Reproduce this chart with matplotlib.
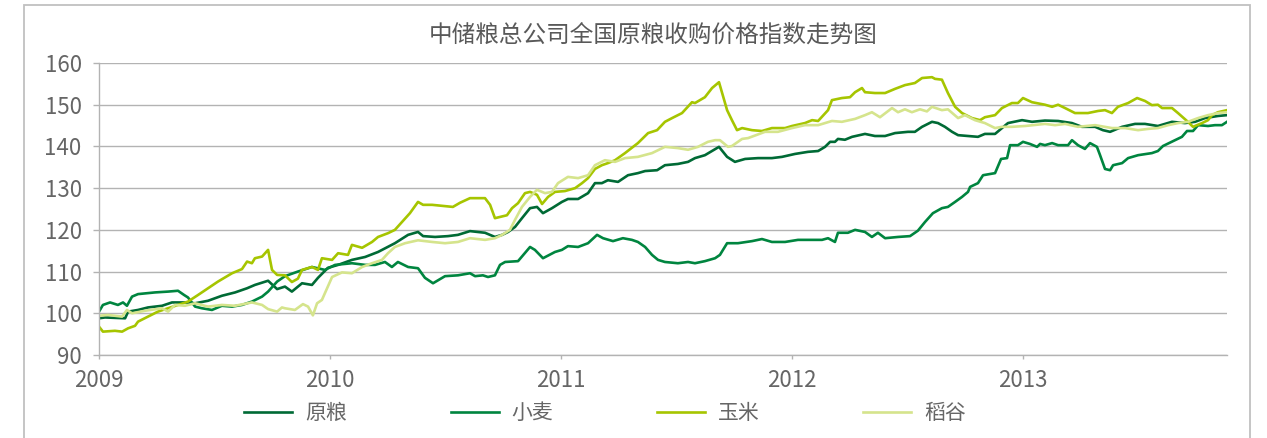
import matplotlib
matplotlib.use('Agg')
import matplotlib.pyplot as plt
from matplotlib.patches import Rectangle

plt.rcParams['font.family'] = ['Noto Sans CJK SC', 'DejaVu Sans']

# x values: years since 2009-01-01
base_year = 2009

yuanliang_t = [0.000, 0.026, 0.113, 0.126, 0.169, 0.212, 0.273, 0.316, 0.372, 0.416,
               0.472, 0.532, 0.589, 0.641, 0.675, 0.732, 0.771, 0.805, 0.835, 0.879,
               0.922, 0.948, 0.991, 1.035, 1.095, 1.152, 1.208, 1.281, 1.338, 1.381,
               1.403, 1.455, 1.511, 1.554, 1.606, 1.671, 1.714, 1.745, 1.771, 1.801,
               1.831, 1.866, 1.896, 1.922, 1.961, 2.004, 2.030, 2.074, 2.117, 2.147,
               2.177, 2.203, 2.247, 2.290, 2.333, 2.364, 2.416, 2.450, 2.506, 2.550,
               2.580, 2.623, 2.684, 2.719, 2.753, 2.797, 2.853, 2.913, 2.957, 3.013,
               3.069, 3.113, 3.143, 3.165, 3.186, 3.199, 3.229, 3.260, 3.316, 3.359,
               3.403, 3.446, 3.502, 3.532, 3.563, 3.606, 3.632, 3.662, 3.693, 3.719,
               3.762, 3.805, 3.835, 3.879, 3.909, 3.935, 3.996, 4.039, 4.095, 4.152,
               4.212, 4.255, 4.312, 4.346, 4.377, 4.429, 4.485, 4.528, 4.584, 4.645,
               4.701, 4.745, 4.788, 4.844, 4.883]
yuanliang = [98.8, 99.0, 98.8, 100.4, 100.8, 101.4, 101.8, 102.6, 102.6, 102.4,
             103.0, 104.2, 105.0, 106.0, 106.8, 107.8, 105.8, 106.4, 105.2, 107.2,
             106.8, 108.5, 110.9, 111.6, 112.8, 113.5, 114.7, 116.8, 118.8, 119.5,
             118.5, 118.3, 118.5, 118.8, 119.7, 119.3, 118.3, 118.8, 119.5, 120.7,
             122.8, 125.2, 125.5, 124.0, 125.2, 126.7, 127.4, 127.4, 128.8, 131.2,
             131.2, 131.9, 131.5, 133.1, 133.6, 134.1, 134.3, 135.5, 135.8, 136.3,
             137.2, 137.9, 139.9, 137.5, 136.3, 137.0, 137.2, 137.2, 137.5, 138.2,
             138.7, 138.9, 139.9, 141.1, 141.1, 141.8, 141.6, 142.3, 143.0, 142.5,
             142.5, 143.2, 143.5, 143.5, 144.7, 145.9, 145.6, 144.7, 143.5, 142.7,
             142.5, 142.3, 143.0, 143.0, 144.4, 145.6, 146.3, 145.9, 146.2, 146.1,
             145.6, 144.7, 144.7, 143.9, 143.5, 144.7, 145.4, 145.4, 144.9, 145.9,
             145.6, 145.9, 146.8, 147.3, 147.5]

xiaomai_t = [0.000, 0.017, 0.048, 0.082, 0.104, 0.121, 0.143, 0.169, 0.242, 0.299,
             0.342, 0.368, 0.385, 0.416, 0.446, 0.489, 0.532, 0.576, 0.619, 0.662,
             0.706, 0.732, 0.771, 0.805, 0.861, 0.922, 0.978, 1.022, 1.095, 1.152,
             1.195, 1.238, 1.268, 1.294, 1.338, 1.381, 1.411, 1.446, 1.498, 1.554,
             1.606, 1.628, 1.662, 1.684, 1.714, 1.736, 1.758, 1.814, 1.866, 1.887,
             1.922, 1.974, 2.004, 2.030, 2.074, 2.117, 2.156, 2.182, 2.225, 2.268,
             2.307, 2.333, 2.364, 2.394, 2.420, 2.450, 2.506, 2.550, 2.580, 2.623,
             2.667, 2.688, 2.719, 2.766, 2.827, 2.870, 2.913, 2.970, 3.026, 3.087,
             3.130, 3.156, 3.186, 3.199, 3.242, 3.273, 3.316, 3.346, 3.372, 3.403,
             3.459, 3.511, 3.545, 3.576, 3.610, 3.649, 3.675, 3.706, 3.736, 3.762,
             3.771, 3.805, 3.827, 3.879, 3.905, 3.931, 3.944, 3.978, 4.000, 4.030,
             4.061, 4.074, 4.095, 4.126, 4.152, 4.195, 4.212, 4.238, 4.268, 4.290,
             4.320, 4.333, 4.355, 4.377, 4.390, 4.429, 4.455, 4.498, 4.558, 4.584,
             4.606, 4.658, 4.688, 4.710, 4.736, 4.758, 4.801, 4.831, 4.861, 4.883]
xiaomai = [100.4, 102.0, 102.6, 102.0, 102.6, 101.8, 104.0, 104.6, 105.0, 105.2,
           105.4, 104.4, 103.8, 101.6, 101.2, 100.8, 101.8, 101.6, 102.0, 102.8,
           104.0, 105.2, 107.6, 108.9, 110.0, 111.1, 110.4, 111.6, 112.0, 111.6,
           111.6, 112.3, 111.1, 112.3, 111.1, 110.8, 108.5, 107.2, 108.9, 109.1,
           109.6, 108.9, 109.1, 108.7, 109.1, 111.6, 112.3, 112.5, 115.9, 115.2,
           113.2, 114.7, 115.2, 116.1, 115.9, 116.8, 118.8, 118.0, 117.3, 118.0,
           117.6, 117.1, 115.9, 114.0, 112.8, 112.3, 112.0, 112.3, 112.0, 112.5,
           113.2, 114.0, 116.8, 116.8, 117.3, 117.8, 117.1, 117.1, 117.6, 117.6,
           117.6, 118.0, 117.1, 119.3, 119.3, 120.0, 119.5, 118.3, 119.3, 118.0,
           118.3, 118.5, 119.8, 121.9, 124.0, 125.2, 125.5, 126.7, 127.9, 129.1,
           130.3, 131.2, 133.1, 133.6, 137.0, 137.2, 140.3, 140.3, 141.1, 140.6,
           139.9, 140.6, 140.3, 140.8, 140.3, 140.3, 141.5, 140.3, 139.4, 140.8,
           139.9, 138.0, 134.6, 134.3, 135.5, 136.0, 137.2, 137.9, 138.4, 138.9,
           140.1, 141.5, 142.3, 143.7, 143.7, 145.1, 144.9, 145.1, 145.1, 145.9]

yumi_t = [0.000, 0.017, 0.069, 0.100, 0.126, 0.156, 0.169, 0.212, 0.255, 0.299,
          0.342, 0.385, 0.429, 0.472, 0.515, 0.576, 0.619, 0.641, 0.662, 0.675,
          0.706, 0.732, 0.749, 0.771, 0.805, 0.835, 0.861, 0.879, 0.922, 0.948,
          0.965, 1.009, 1.035, 1.078, 1.095, 1.139, 1.182, 1.208, 1.251, 1.281,
          1.312, 1.346, 1.381, 1.403, 1.442, 1.498, 1.532, 1.563, 1.606, 1.671,
          1.693, 1.714, 1.766, 1.788, 1.814, 1.844, 1.866, 1.896, 1.918, 1.944,
          1.974, 2.017, 2.061, 2.091, 2.117, 2.147, 2.177, 2.203, 2.234, 2.277,
          2.333, 2.377, 2.416, 2.450, 2.481, 2.524, 2.567, 2.580, 2.623, 2.654,
          2.684, 2.719, 2.740, 2.762, 2.784, 2.827, 2.870, 2.913, 2.970, 3.000,
          3.056, 3.087, 3.113, 3.156, 3.173, 3.216, 3.251, 3.273, 3.303, 3.316,
          3.359, 3.403, 3.446, 3.489, 3.532, 3.563, 3.606, 3.619, 3.649, 3.675,
          3.706, 3.736, 3.779, 3.814, 3.835, 3.879, 3.909, 3.952, 3.978, 4.000,
          4.039, 4.095, 4.126, 4.152, 4.182, 4.225, 4.281, 4.325, 4.355, 4.385,
          4.411, 4.455, 4.494, 4.528, 4.558, 4.584, 4.602, 4.645, 4.671, 4.714,
          4.736, 4.775, 4.801, 4.818, 4.844, 4.883]
yumi = [96.8, 95.6, 95.8, 95.6, 96.4, 97.0, 98.0, 99.2, 100.4, 101.2,
        102.0, 102.8, 104.4, 106.0, 107.6, 109.6, 110.6, 112.4, 112.0, 113.2,
        113.6, 115.2, 110.4, 109.2, 109.1, 107.5, 108.3, 110.4, 111.1, 110.4,
        113.2, 112.8, 114.4, 114.0, 116.4, 115.7, 117.1, 118.3, 119.2, 120.0,
        121.9, 124.0, 126.7, 126.0, 126.0, 125.7, 125.5, 126.5, 127.6, 127.6,
        126.0, 122.8, 123.5, 125.2, 126.4, 128.8, 129.1, 128.4, 126.2, 127.9,
        129.1, 129.3, 130.0, 131.2, 132.4, 134.6, 135.5, 136.0, 136.7, 138.4,
        140.8, 143.2, 143.9, 145.9, 146.8, 148.0, 150.6, 150.4, 151.8, 154.0,
        155.4, 148.7, 146.3, 143.9, 144.4, 143.9, 143.7, 144.4, 144.4, 144.9,
        145.6, 146.3, 146.1, 148.7, 151.1, 151.6, 151.8, 153.0, 154.0, 153.0,
        152.8, 152.8, 153.8, 154.7, 155.2, 156.4, 156.6, 156.2, 156.0, 152.8,
        149.5, 148.0, 146.8, 146.3, 147.0, 147.5, 149.2, 150.4, 150.4, 151.6,
        150.6, 150.0, 149.5, 150.0, 149.2, 148.0, 148.0, 148.5, 148.7, 148.0,
        149.5, 150.4, 151.6, 150.9, 149.9, 150.0, 149.2, 149.2, 148.0, 145.9,
        144.7, 145.6, 146.3, 147.5, 148.2, 148.7]

daogu_t = [0.000, 0.039, 0.100, 0.121, 0.143, 0.199, 0.273, 0.299, 0.329, 0.372,
           0.416, 0.472, 0.532, 0.589, 0.662, 0.706, 0.732, 0.771, 0.792, 0.805,
           0.848, 0.883, 0.905, 0.926, 0.944, 0.965, 1.009, 1.052, 1.095, 1.139,
           1.182, 1.225, 1.251, 1.281, 1.325, 1.381, 1.442, 1.498, 1.554, 1.606,
           1.671, 1.714, 1.745, 1.779, 1.801, 1.831, 1.866, 1.896, 1.931, 1.961,
           1.987, 2.030, 2.074, 2.117, 2.147, 2.190, 2.234, 2.277, 2.333, 2.394,
           2.450, 2.506, 2.550, 2.593, 2.636, 2.667, 2.688, 2.723, 2.740, 2.784,
           2.810, 2.883, 2.939, 3.000, 3.056, 3.113, 3.173, 3.216, 3.273, 3.316,
           3.346, 3.381, 3.433, 3.459, 3.489, 3.519, 3.554, 3.584, 3.606, 3.649,
           3.675, 3.719, 3.749, 3.792, 3.835, 3.879, 3.909, 3.952, 4.009, 4.095,
           4.139, 4.182, 4.238, 4.312, 4.385, 4.442, 4.498, 4.541, 4.584, 4.628,
           4.671, 4.714, 4.758, 4.801, 4.844, 4.883]
daogu = [99.4, 99.6, 99.2, 100.8, 100.0, 100.6, 101.2, 100.4, 102.0, 101.8,
         102.4, 101.6, 102.0, 101.8, 102.6, 102.0, 101.0, 100.4, 101.4, 101.2,
         100.8, 102.2, 101.6, 99.5, 102.4, 103.2, 108.7, 109.8, 109.6, 111.1,
         112.0, 112.8, 114.4, 115.9, 116.8, 117.5, 117.1, 116.8, 117.1, 118.0,
         117.6, 118.0, 118.8, 120.0, 122.4, 125.5, 127.9, 129.6, 128.8, 129.1,
         131.2, 132.7, 132.4, 133.1, 135.5, 136.7, 136.3, 137.2, 137.5, 138.4,
         139.9, 139.6, 139.2, 139.9, 141.1, 141.5, 141.5, 139.9, 140.1, 141.8,
         142.0, 143.5, 143.5, 144.4, 145.1, 145.1, 146.1, 145.9, 146.6, 147.5,
         148.2, 147.0, 149.2, 148.2, 148.9, 148.2, 148.9, 148.4, 149.5, 148.7,
         148.9, 146.8, 147.5, 146.3, 145.6, 144.4, 144.7, 144.7, 144.9, 145.4,
         145.1, 145.4, 144.7, 145.1, 144.4, 144.4, 143.9, 144.2, 144.4, 145.1,
         145.6, 145.9, 146.8, 147.5, 148.0, 148.2]

years = [2009, 2010, 2011, 2012, 2013]
yticks = [90, 100, 110, 120, 130, 140, 150, 160]

grid_c = '#b3b3b3'
text_c = '#666666'

fig = plt.figure(figsize=(12.67, 4.38), dpi=100)
ax = fig.add_axes([99/1267, 83/438, 1128/1267, 292/438])

# outer frame (bottom edge runs off the picture)
fig.patches.append(Rectangle((24/1267, -0.1), 1226/1267, 1.1 - 5/438,
                             transform=fig.transFigure, fill=False,
                             edgecolor='#c0c0c0', lw=1.3))

series = [
    ('原粮', yuanliang_t, yuanliang, '#006a35'),
    ('小麦', xiaomai_t, xiaomai, '#00853f'),
    ('玉米', yumi_t, yumi, '#a6c500'),
    ('稻谷', daogu_t, daogu, '#d5e48c'),
]
for name, t, v, c in series:
    ax.plot([base_year + x for x in t], v, color=c, lw=1.9, label=name,
            solid_joinstyle='round')

ax.set_xlim(2009, 2009 + 1128/231)
ax.set_ylim(90, 160)
ax.set_yticks(yticks)
ax.set_xticks(years)
ax.set_xticklabels([str(y) for y in years])
ax.yaxis.grid(True, color=grid_c, lw=1.0)
ax.set_axisbelow(True)
for s in ['top', 'right']:
    ax.spines[s].set_visible(False)
for s in ['left', 'bottom']:
    ax.spines[s].set_color(grid_c)
    ax.spines[s].set_linewidth(1.0)
ax.tick_params(axis='y', length=4.5, width=1.0, color=grid_c, pad=8,
               labelsize=16, labelcolor=text_c)
ax.tick_params(axis='x', length=3, width=1.0, color=grid_c, pad=7,
               labelsize=16, labelcolor=text_c)

fig.text(653/1267, 1 - 35/438, '中储粮总公司全国原粮收购价格指数走势图',
         ha='center', va='center', fontsize=17, color='#595959')

fig.legend(loc='center', bbox_to_anchor=(605/1267, 1 - 413/438), ncol=4,
           frameon=False, fontsize=15, handlelength=2.3, handletextpad=0.6,
           columnspacing=5.0, labelcolor=text_c)

fig.savefig('out.png', dpi=100)
